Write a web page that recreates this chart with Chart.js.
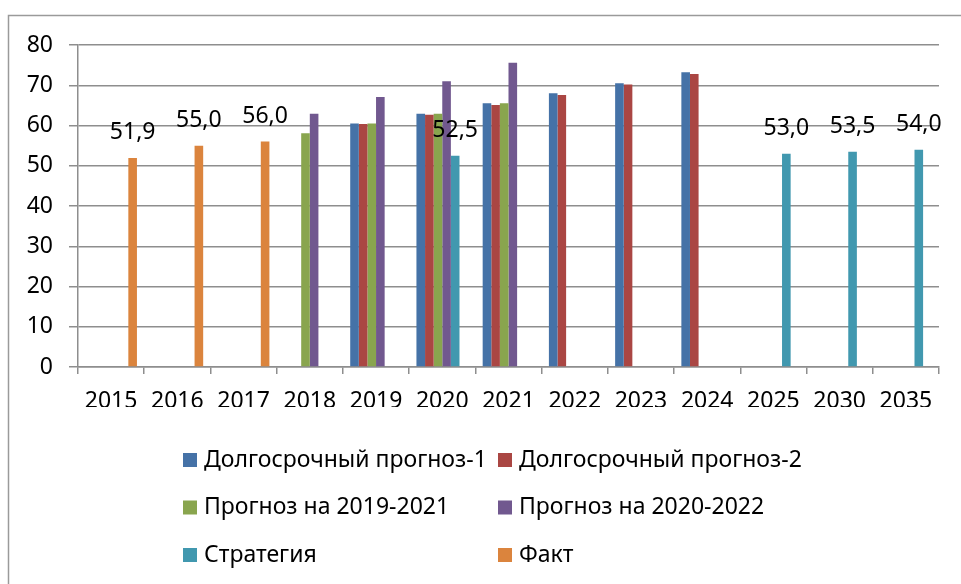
<!DOCTYPE html>
<html>
<head>
<meta charset="utf-8">
<script src="https://cdn.jsdelivr.net/npm/chart.js@4.4.0/dist/chart.umd.min.js"></script>
<style>
  html, body { margin: 0; padding: 0; background: #fff; }
  #wrap { width: 961px; height: 584px; position: relative; }
</style>
</head>
<body>
<div id="wrap"><canvas id="c" width="961" height="584"></canvas></div>
<script>
// --- data ---
const YEARS = ['2015', '2016', '2017', '2018', '2019', '2020', '2021', '2022', '2023', '2024', '2025', '2030', '2035'];

const LONG_1   = [null, null, null, null, 60.5, 62.9, 65.5, 68.0, 70.5, 73.2, null, null, null];
const LONG_2   = [null, null, null, null, 60.4, 62.7, 65.1, 67.6, 70.2, 72.8, null, null, null];
const PROG_19  = [null, null, null, 58.1, 60.5, 62.9, 65.5, null, null, null, null, null, null];
const PROG_20  = [null, null, null, 62.9, 67.1, 71.0, 75.6, null, null, null, null, null, null];
const STRATEGY = [null, null, null, null, null, 52.5, null, null, null, null, 53.0, 53.5, 54.0];
const FACT     = [51.9, 55.0, 56.0, null, null, null, null, null, null, null, null, null, null];

const SERIES_NAMES = ['Долгосрочный прогноз-1', 'Долгосрочный прогноз-2', 'Прогноз на 2019-2021',
                      'Прогноз на 2020-2022', 'Стратегия', 'Факт'];
const Y_TICKS = { min: 0, max: 80, step: 10 };

const COLORS = ['#4572A7', '#AA4643', '#89A54E', '#71588F', '#4198AF', '#DB843D'];
const FONT = '"Noto Sans", "DejaVu Sans", sans-serif';
const FONT_SIZE = 23;

// labels only on these series (Стратегия, Факт)
const LABELLED = [4, 5];

const fmt = v => v.toFixed(1).replace('.', ',');

// value labels above bars
const barLabels = {
  id: 'barLabels',
  afterDatasetsDraw(chart) {
    const ctx = chart.ctx;
    ctx.save();
    ctx.font = `${FONT_SIZE}px ${FONT}`;
    ctx.fillStyle = '#000';
    ctx.textAlign = 'center';
    ctx.textBaseline = 'alphabetic';
    LABELLED.forEach(di => {
      const meta = chart.getDatasetMeta(di);
      meta.data.forEach((bar, i) => {
        const v = chart.data.datasets[di].data[i];
        if (v == null) return;
        ctx.fillText(fmt(v), bar.x, bar.y - 19);
      });
    });
    ctx.restore();
  }
};

// two-column legend + outer frame, like the office chart
const gridLegend = {
  id: 'gridLegend',
  afterDraw(chart) {
    const ctx = chart.ctx;
    ctx.save();
    ctx.strokeStyle = '#9a9a9a';
    ctx.lineWidth = 1.5;
    ctx.strokeRect(8.5, 15.5, 1200, 1200);

    const colX = [183, 498];
    const rowY = [460, 507.5, 555];
    ctx.font = `${FONT_SIZE}px ${FONT}`;
    ctx.textBaseline = 'middle';
    ctx.textAlign = 'left';
    chart.data.datasets.forEach((ds, i) => {
      const x = colX[i % 2], y = rowY[Math.floor(i / 2)];
      ctx.fillStyle = ds.backgroundColor;
      ctx.fillRect(x, y - 7, 14, 14);
      ctx.fillStyle = '#000';
      ctx.fillText(ds.label, x + 21, y);
    });
    ctx.restore();
  }
};

const datasets = [LONG_1, LONG_2, PROG_19, PROG_20, STRATEGY, FACT].map((d, i) => ({
  label: SERIES_NAMES[i],
  data: d,
  backgroundColor: COLORS[i],
  borderWidth: 0,
  categoryPercentage: 0.78,
  barPercentage: 1.0,
}));

new Chart(document.getElementById('c'), {
  type: 'bar',
  data: { labels: YEARS, datasets },
  plugins: [barLabels, gridLegend],
  options: {
    responsive: false,
    animation: false,
    layout: { padding: { left: 0, top: 45, right: 22, bottom: 177 } },
    plugins: { legend: { display: false }, tooltip: { enabled: false } },
    scales: {
      x: {
        grid: { display: true, drawOnChartArea: false, offset: true, color: '#8e8e8e', lineWidth: 1.5, tickLength: 7 },
        border: { color: '#8e8e8e', width: 1.5 },
        ticks: { color: '#000', font: { family: FONT, size: FONT_SIZE }, padding: 14, maxRotation: 0 },
        afterFit: s => { s.height = 40; },
      },
      y: {
        min: Y_TICKS.min, max: Y_TICKS.max,
        grid: { color: '#8e8e8e', lineWidth: 1.5, tickLength: 9 },
        border: { color: '#8e8e8e', width: 1.5 },
        ticks: { stepSize: Y_TICKS.step, color: '#000', font: { family: FONT, size: FONT_SIZE }, padding: 16 },
        afterFit: s => { s.width = 78; },
      },
    },
  },
});
</script>
</body>
</html>
